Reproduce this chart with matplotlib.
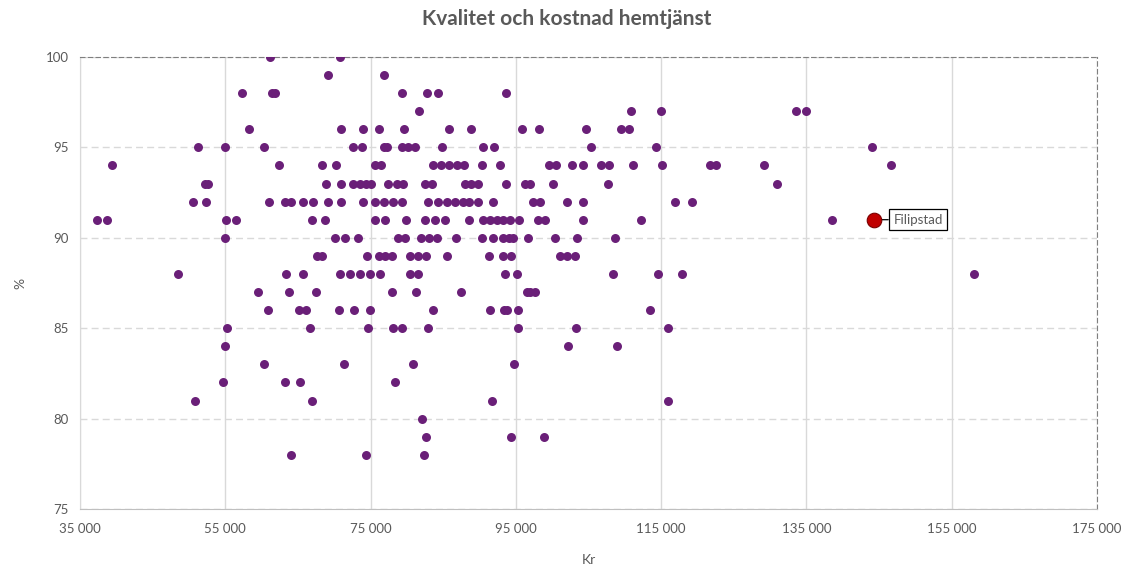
import matplotlib
matplotlib.use("Agg")
import matplotlib.pyplot as plt
from matplotlib.ticker import FuncFormatter, MultipleLocator

plt.rcParams['font.family'] = ['Lato', 'DejaVu Sans']

# kostnad (kr) per kvalitetsnivå (%)
kr_100 = [61100, 70800]
kr_99 = [69200, 76800]
kr_98 = [57300, 61400, 61900, 79300, 82800, 84300, 93600]
kr_97 = [81700, 110900, 115000, 133600, 135000]
kr_96 = [58300, 70900, 74000, 76100, 79600, 85800, 88800, 95900, 98200, 104600,
         109500, 110600]
kr_95 = [51300, 55000, 60400, 72600, 73800, 76800, 77200, 79300, 80200, 81100,
         84800, 90500, 92000, 105400, 114300, 144100]
kr_94 = [39400, 62400, 68300, 70300, 75600, 76500, 83600, 84700, 85800, 86900,
         87900, 90400, 92800, 99600, 100600, 102700, 104200, 106800, 107900,
         111100, 115100, 121700, 122500, 129200, 146700]
kr_93 = [52200, 52600, 68900, 70900, 72600, 73500, 74400, 75100, 77400, 78600,
         79500, 82500, 83400, 88000, 88900, 89800, 93600, 96200, 97000, 100100,
         107700, 130900]
kr_92 = [50600, 52400, 61000, 63200, 64100, 65700, 67100, 69200, 71000, 74000,
         75600, 76800, 78100, 79400, 82900, 84300, 85500, 86600, 87800, 88600,
         89800, 91900, 97400, 98300, 102100, 104300, 116900, 119200]
kr_91 = [37400, 38700, 55100, 56500, 66900, 68700, 75600, 77000, 79900, 82500,
         83900, 85200, 88500, 90500, 91500, 92400, 93300, 94200, 95400, 98100,
         99000, 104300, 112300, 138600]
kr_90 = [55000, 70100, 71500, 73300, 78800, 79700, 82000, 83100, 84100, 86700,
         90400, 91900, 93300, 94000, 94600, 96700, 100400, 103400, 108600]
kr_89 = [67600, 68300, 74500, 76100, 77000, 77900, 80400, 81600, 82700, 85500,
         91300, 93300, 94400, 101100, 102000, 103100]
kr_88 = [48500, 63400, 65700, 70800, 72200, 73500, 74900, 76300, 80400, 81600,
         93500, 95200, 108400, 114600, 117900, 158100]
kr_87 = [59500, 63800, 67500, 77900, 81300, 87500, 96500, 96900, 97600]
kr_86 = [60900, 65100, 66100, 70700, 72700, 74900, 83600, 91500, 93400, 93800,
         95300, 113500]
kr_85 = [55300, 66700, 74600, 78100, 79300, 82900, 95300, 103300, 116000]
kr_84 = [55000, 102200, 109000]
kr_83 = [60400, 71300, 80900, 94800]
kr_82 = [54700, 63200, 65300, 78400]
kr_81 = [50900, 66900, 91700, 116000]
kr_80 = [82100]
kr_79 = [82600, 94300, 98900]
kr_78 = [64100, 74400, 82300]

levels = {100: kr_100, 99: kr_99, 98: kr_98, 97: kr_97, 96: kr_96, 95: kr_95,
          94: kr_94, 93: kr_93, 92: kr_92, 91: kr_91, 90: kr_90, 89: kr_89,
          88: kr_88, 87: kr_87, 86: kr_86, 85: kr_85, 84: kr_84, 83: kr_83,
          82: kr_82, 81: kr_81, 80: kr_80, 79: kr_79, 78: kr_78}

filipstad_kr = 144300
filipstad_pct = 91

x_ticks = [35000, 55000, 75000, 95000, 115000, 135000, 155000, 175000]

x = []
y = []
for pct, vals in levels.items():
    x += vals
    y += [pct] * len(vals)

fig = plt.figure(figsize=(11.33, 5.67), dpi=100)
ax = fig.add_axes([0.0706, 0.1023, 0.8975, 0.7972])

grey = '#595959'
ax.scatter(x, y, s=42, color='#6a1f78', zorder=3, linewidths=0)
ax.scatter([filipstad_kr], [filipstad_pct], s=110, color='#c00000',
           edgecolors='#7a0000', linewidths=0.8, zorder=4)
ax.annotate('Filipstad', (filipstad_kr, filipstad_pct), xytext=(14, 0),
            textcoords='offset points', ha='left', va='center', fontsize=9.5,
            color=grey,
            bbox=dict(boxstyle='square,pad=0.35', fc='white', ec='black', lw=0.9),
            arrowprops=dict(arrowstyle='-', color='black', lw=0.9,
                            shrinkA=0, shrinkB=3))

ax.set_xlim(35000, 175000)
ax.set_ylim(75, 100)
ax.set_xticks(x_ticks)
ax.yaxis.set_major_locator(MultipleLocator(5))
ax.xaxis.set_major_formatter(FuncFormatter(lambda v, p: f'{int(v):,}'.replace(',', ' ')))

ax.grid(axis='x', color='#d9d9d9', lw=1, zorder=0)
ax.grid(axis='y', color='#d9d9d9', lw=1, ls=(0, (5, 3)), zorder=0)

ax.spines['left'].set_color('#d9d9d9')
ax.spines['bottom'].set_color('#bfbfbf')
ax.spines['top'].set_color('#7f7f7f')
ax.spines['top'].set_linestyle((0, (4, 3)))
ax.spines['right'].set_color('#7f7f7f')
ax.spines['right'].set_linestyle((0, (4, 3)))

ax.tick_params(axis='both', colors=grey, labelsize=9.5, length=0, pad=8)
ax.tick_params(axis='x', pad=10)

ax.set_xlabel('Kr', color=grey, fontsize=10, labelpad=14)
ax.set_ylabel('%', color=grey, fontsize=10, labelpad=14)
fig.suptitle('Kvalitet och kostnad hemtjänst', y=0.985, fontsize=15,
             fontweight='bold', color=grey)

fig.savefig('out.png', dpi=100)
